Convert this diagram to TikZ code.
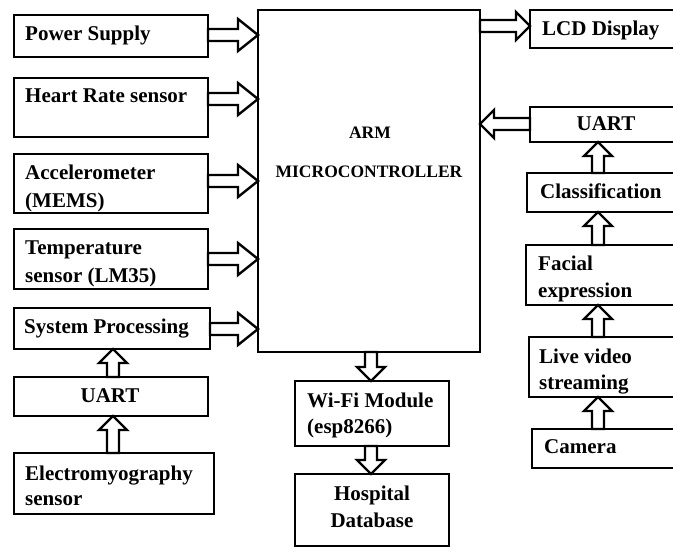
\documentclass[tikz,border=0pt]{standalone}
\usepackage{fontspec}
\setmainfont{Liberation Serif}
\usetikzlibrary{calc}
\tikzset{
  box/.style={draw, line width=2.8pt, inner sep=0pt, outer sep=0pt, anchor=north west},
  txt/.style={inner sep=0pt, anchor=base west, font=\fontsize{21}{25}\selectfont\bfseries},
  ctxt/.style={txt, anchor=base},
  armtxt/.style={inner sep=0pt, anchor=base, font=\fontsize{17.5}{21}\selectfont\bfseries},
  hollow/.style={draw, line width=2.4pt, line join=miter, fill=white,
    to path={let \p1=(\tikztostart), \p2=(\tikztotarget), \p3=($(\p2)!\ahl pt!(\p1)$) in
      ($(\p1)!\ahs pt!90:(\p2)$) -- ($(\p3)!\ahs pt!90:(\p2)$) -- ($(\p3)!\ahw pt!90:(\p2)$)
      -- (\p2) -- ($(\p3)!\ahw pt!-90:(\p2)$) -- ($(\p3)!\ahs pt!-90:(\p2)$)
      -- ($(\p1)!\ahs pt!-90:(\p2)$) -- cycle}},
  bigarrow/.style={hollow, /utils/exec={\def\ahs{6}\def\ahw{16}\def\ahl{20}}},
  smallarrow/.style={hollow, /utils/exec={\def\ahs{6}\def\ahw{14}\def\ahl{14}}},
}
\begin{document}
\begin{tikzpicture}[x=1pt, y=-1pt]
\useasboundingbox (0,0) rectangle (673,547);
% left column
\node[box, minimum width=194, minimum height=42] (ps) at (14,15) {};
\node[box, minimum width=194, minimum height=59] (hr) at (14,78) {};
\node[box, minimum width=194, minimum height=59] (acc) at (14,154) {};
\node[box, minimum width=194, minimum height=60] (temp) at (14,229) {};
\node[box, minimum width=196, minimum height=41] (sp) at (14,308) {};
\node[box, minimum width=194, minimum height=39] (uartl) at (14,377) {};
\node[box, minimum width=200, minimum height=61] (emg) at (14,453) {};
% centre
\node[box, minimum width=222, minimum height=342] (arm) at (258,10) {};
\node[box, minimum width=154, minimum height=65] (wifi) at (295,381) {};
\node[box, minimum width=154, minimum height=72] (hosp) at (295,474) {};
% right column (cut by the right edge)
\node[box, minimum width=160, minimum height=38] (lcd) at (530,10) {};
\node[box, minimum width=160, minimum height=35] (uartr) at (530,107) {};
\node[box, minimum width=160, minimum height=39] (cls) at (527,173) {};
\node[box, minimum width=160, minimum height=60] (fac) at (526,245) {};
\node[box, minimum width=160, minimum height=60] (live) at (529,337) {};
\node[box, minimum width=160, minimum height=39] (cam) at (532,429) {};
% texts
\node[txt] (tps) at (25,40) {Power Supply};
\node[txt] (thr) at (25,102) {Heart Rate sensor};
\node[txt] (tacc1) at (25,179) {Accelerometer};
\node[txt] (tacc2) at (25,207) {(MEMS)};
\node[txt] (ttemp1) at (25,254) {Temperature};
\node[txt] (ttemp2) at (25,282) {sensor (LM35)};
\node[txt] (tsp) at (24,333) {System Processing};
\node[ctxt] (tuartl) at (110,402) {UART};
\node[txt] (temg1) at (25,480) {Electromyography};
\node[txt] (temg2) at (25,505) {sensor};
\node[armtxt] (tarm1) at (370,138) {ARM};
\node[armtxt] (tarm2) at (369,177) {MICROCONTROLLER};
\node[txt] (twifi1) at (307,407) {Wi-Fi Module};
\node[txt] (twifi2) at (307,433) {(esp8266)};
\node[ctxt] (thosp1) at (372,500) {Hospital};
\node[ctxt] (thosp2) at (372,527) {Database};
\node[txt] (tlcd) at (542,35) {LCD Display};
\node[ctxt] (tuartr) at (606,130) {UART};
\node[txt] (tcls) at (540,198) {Classification};
\node[txt] (tfac1) at (538,270) {Facial};
\node[txt] (tfac2) at (538,297) {expression};
\node[txt] (tlive1) at (539,363) {Live video};
\node[txt] (tlive2) at (539,389) {streaming};
\node[txt] (tcam) at (544,453) {Camera};
% connectors
\coordinate (yps) at (0,35);
\coordinate (yhr) at (0,99);
\coordinate (yacc) at (0,181);
\coordinate (ytemp) at (0,259);
\coordinate (ysp) at (0,329);
\draw[bigarrow] (ps.east |- yps) to (arm.west |- yps);
\draw[bigarrow] (hr.east |- yhr) to (arm.west |- yhr);
\draw[bigarrow] (acc.east |- yacc) to (arm.west |- yacc);
\draw[bigarrow] (temp.east |- ytemp) to (arm.west |- ytemp);
\draw[bigarrow] (sp.east |- ysp) to (arm.west |- ysp);
\coordinate (xl) at (113,0);
\draw[smallarrow] (uartl.north -| xl) to (sp.south -| xl);
\draw[smallarrow] (emg.north -| xl) to (uartl.south -| xl);
\coordinate (xc) at (371,0);
\draw[smallarrow] (arm.south -| xc) to (wifi.north -| xc);
\draw[smallarrow] (wifi.south -| xc) to (hosp.north -| xc);
\coordinate (ylcd) at (0,26);
\coordinate (yuart) at (0,124);
\draw[smallarrow] (arm.east |- ylcd) to (lcd.west |- ylcd);
\draw[smallarrow] (uartr.west |- yuart) to (arm.east |- yuart);
\coordinate (xr) at (598,0);
\draw[smallarrow] (cls.north -| xr) to (uartr.south -| xr);
\draw[smallarrow] (fac.north -| xr) to (cls.south -| xr);
\draw[smallarrow] (live.north -| xr) to (fac.south -| xr);
\draw[smallarrow] (cam.north -| xr) to (live.south -| xr);
\end{tikzpicture}
\end{document}
